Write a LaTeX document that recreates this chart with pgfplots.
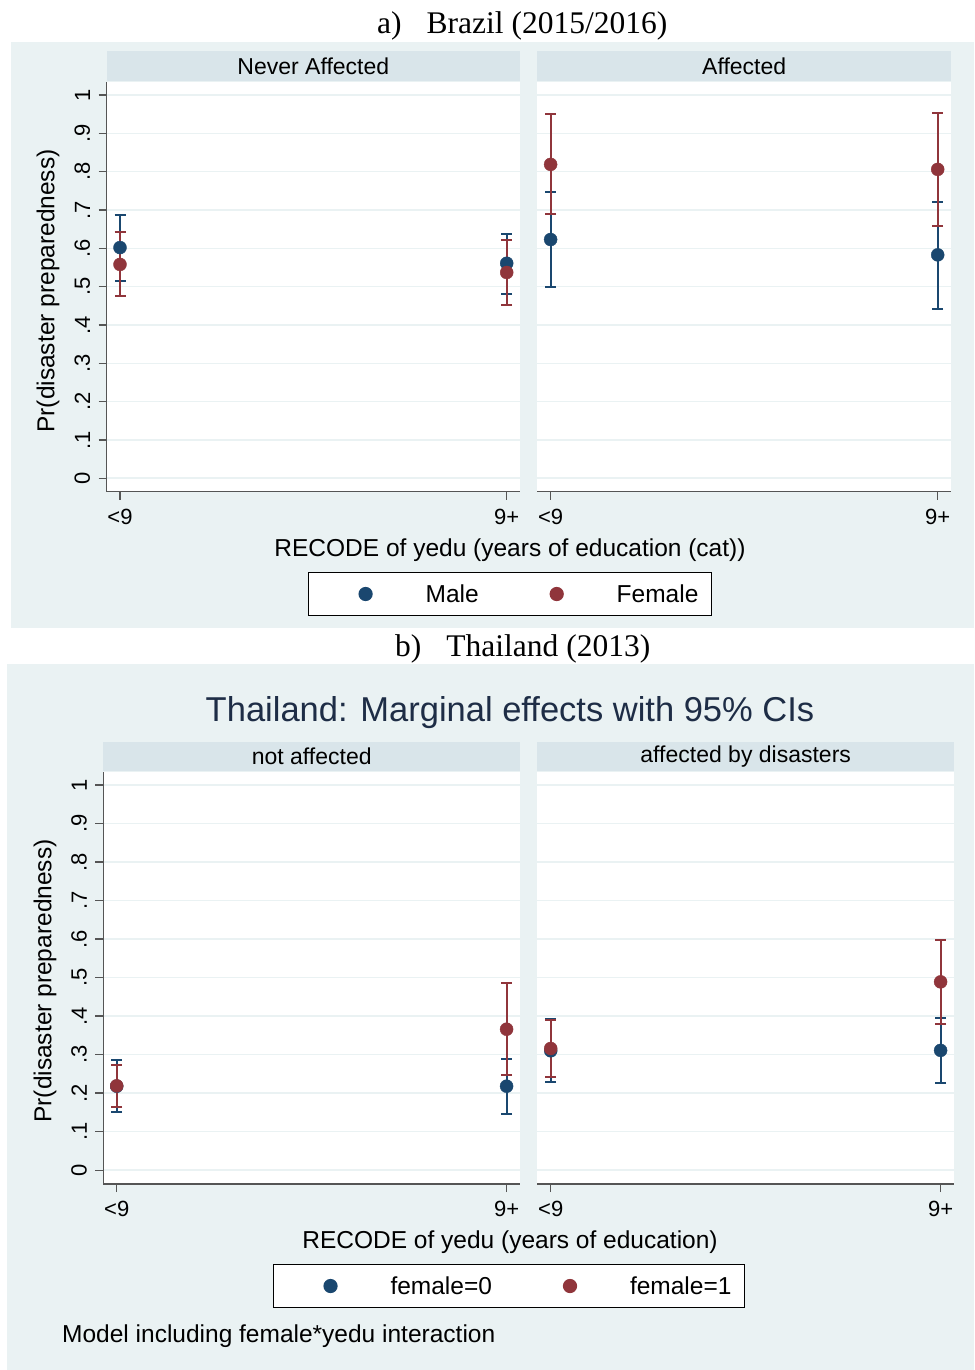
\documentclass[border=0pt]{standalone}
\usepackage{fontspec}
\setmainfont{Liberation Sans}
\newfontfamily\serif{Liberation Serif}
\usepackage{pgfplots}
\usepackage{pgfplotstable}
\pgfplotsset{compat=1.18}
\definecolor{bgc}{RGB}{234,242,243}
\definecolor{stripc}{RGB}{217,229,234}
\definecolor{gridc}{RGB}{234,242,243}
\definecolor{axc}{RGB}{85,85,85}
\definecolor{navyS}{RGB}{26,71,111}
\definecolor{maroonS}{RGB}{144,53,59}
\definecolor{titc}{RGB}{30,45,70}
\newcommand\fs[1]{\fontsize{#1}{#1}\selectfont}

% columns: x, estimate, CI upper minus estimate, estimate minus CI lower
\pgfplotstableread{
x y ep em
0 0.602 0.085 0.087
1 0.561 0.077 0.079
}\brMaleNever
\pgfplotstableread{
x y ep em
0 0.558 0.084 0.083
1 0.537 0.086 0.086
}\brFemaleNever
\pgfplotstableread{
x y ep em
0 0.623 0.123 0.123
1 0.583 0.139 0.140
}\brMaleAff
\pgfplotstableread{
x y ep em
0 0.819 0.131 0.130
1 0.806 0.148 0.148
}\brFemaleAff
\pgfplotstableread{
x y ep em
0 0.218 0.067 0.068
1 0.218 0.070 0.071
}\thMaleNot
\pgfplotstableread{
x y ep em
0 0.219 0.055 0.055
1 0.366 0.120 0.118
}\thFemaleNot
\pgfplotstableread{
x y ep em
0 0.310 0.082 0.082
1 0.311 0.084 0.084
}\thMaleAff
\pgfplotstableread{
x y ep em
0 0.316 0.074 0.073
1 0.489 0.110 0.110
}\thFemaleAff

\pgfplotsset{
 panel/.style={
  scale only axis, anchor=south west,
  xmin=-0.0344, xmax=1.0344,
  xtick={0,1}, xticklabels={<9,9+},
  ytick={0,0.1,0.2,0.3,0.4,0.5,0.6,0.7,0.8,0.9,1},
  yticklabels={0,.1,.2,.3,.4,.5,.6,.7,.8,.9,1},
  axis x line*=bottom, axis y line*=left,
  axis line style={-, draw=axc, line width=1.3pt},
  tick align=outside, major tick length=8pt,
  tick style={draw=axc, line width=1.3pt},
  ymajorgrids, grid style={draw=gridc, line width=1.6pt},
  axis background/.style={fill=white},
  tick label style={font=\fs{22}},
  xticklabel style={yshift=-6pt},
  yticklabel style={xshift=-5pt, rotate=90, anchor=south},
 },
 rightpanel/.style={y axis line style={draw=none}, ytick style={draw=none}, yticklabels={}},
 ciM/.style={forget plot, draw=none, error bars/.cd, y dir=both, y explicit,
   error bar style={draw=navyS, line width=2pt},
   error mark options={draw=navyS, rotate=90, mark size=5.5pt, line width=2pt}},
 ciF/.style={forget plot, draw=none, error bars/.cd, y dir=both, y explicit,
   error bar style={draw=maroonS, line width=2pt},
   error mark options={draw=maroonS, rotate=90, mark size=5.5pt, line width=2pt}},
 ptM/.style={only marks, mark=*, mark size=6.5pt, color=navyS, mark options={fill=navyS, draw=navyS},
   legend image code/.code={\path[draw=none] (-46pt,0pt) -- (58pt,0pt); \draw[##1] plot coordinates {(0pt,0pt)};}},
 ptF/.style={only marks, mark=*, mark size=6.5pt, color=maroonS, mark options={fill=maroonS, draw=maroonS},
   legend image code/.code={\path[draw=none] (-46pt,0pt) -- (58pt,0pt); \draw[##1] plot coordinates {(0pt,0pt)};}},
 leg/.style={legend columns=2, legend style={font=\fs{24.5}, draw=black, line width=1.2pt, fill=white,
   inner xsep=11pt, inner ysep=10pt, anchor=center,
   /tikz/every even column/.append style={column sep=30pt}}},
}

\begin{document}
\begin{tikzpicture}[x=1pt,y=1pt]
\fill[white] (0,0) rectangle (974,-1370);
\fill[bgc] (11,-42) rectangle (974,-628);
\fill[bgc] (7,-664) rectangle (974,-1370);
\node[anchor=base west, inner sep=0pt, font=\serif\fs{31.5}] at (377,-34) {a)\hspace{25pt}Brazil (2015/2016)};
\node[anchor=base west, inner sep=0pt, font=\serif\fs{31.5}] at (395,-656) {b)\hspace{25pt}Thailand (2013)};

% ---------- Brazil ----------
\fill[stripc] (106.7,-51) rectangle (520,-81);
\fill[stripc] (537.3,-51) rectangle (951,-81);
\node[font=\fs{23}] at (313.3,-66) {Never Affected};
\node[font=\fs{23}] at (744.2,-66) {Affected};
\node[font=\fs{24.5}, rotate=90] at (48,-291) {Pr(disaster preparedness)};
\node[font=\fs{24.5}] at (510,-550) {RECODE of yedu (years of education (cat))};

\begin{axis}[panel, at={(106.7pt,-491.7pt)}, width=413.3pt, height=409.7pt,
  ymin=-0.035, ymax=1.034, leg, legend style={at={(0.9758,-0.2497)}}]
\addplot[ciM] table[x=x, y=y, y error plus=ep, y error minus=em] {\brMaleNever};
\addplot[ciF] table[x=x, y=y, y error plus=ep, y error minus=em] {\brFemaleNever};
\addplot[ptM] table[x=x, y=y] {\brMaleNever};
\addlegendentry{Male}
\addplot[ptF] table[x=x, y=y] {\brFemaleNever};
\addlegendentry{Female}
\end{axis}

\begin{axis}[panel, rightpanel, at={(537.3pt,-491.7pt)}, width=413.7pt, height=409.7pt,
  ymin=-0.035, ymax=1.034]
\addplot[ciM] table[x=x, y=y, y error plus=ep, y error minus=em] {\brMaleAff};
\addplot[ciF] table[x=x, y=y, y error plus=ep, y error minus=em] {\brFemaleAff};
\addplot[ptM] table[x=x, y=y] {\brMaleAff};
\addplot[ptF] table[x=x, y=y] {\brFemaleAff};
\end{axis}

% ---------- Thailand ----------
\node[font=\fs{34.5}, text=titc] at (510,-713) {Thailand: Marginal effects with 95\% CIs};
\fill[stripc] (103.3,-742) rectangle (520,-771);
\fill[stripc] (537.3,-742) rectangle (954,-771);
\node[font=\fs{23}] at (311.7,-756.5) {not affected};
\node[font=\fs{23}] at (745.7,-756.5) {affected by disasters};
\node[font=\fs{24.5}, rotate=90] at (45,-981) {Pr(disaster preparedness)};
\node[font=\fs{24.5}] at (510,-1242) {RECODE of yedu (years of education)};
\node[anchor=base west, inner sep=0pt, font=\fs{24.5}] at (62,-1342) {Model including female*yedu interaction};

\begin{axis}[panel, at={(103.3pt,-1184pt)}, width=416.7pt, height=412pt,
  ymin=-0.036, ymax=1.034, leg, legend style={at={(0.9736,-0.2476)}}]
\addplot[ciM] table[x=x, y=y, y error plus=ep, y error minus=em] {\thMaleNot};
\addplot[ciF] table[x=x, y=y, y error plus=ep, y error minus=em] {\thFemaleNot};
\addplot[ptM] table[x=x, y=y] {\thMaleNot};
\addlegendentry{female=0}
\addplot[ptF] table[x=x, y=y] {\thFemaleNot};
\addlegendentry{female=1}
\end{axis}

\begin{axis}[panel, rightpanel, at={(537.3pt,-1184pt)}, width=416.7pt, height=412pt,
  ymin=-0.036, ymax=1.034]
\addplot[ciM] table[x=x, y=y, y error plus=ep, y error minus=em] {\thMaleAff};
\addplot[ciF] table[x=x, y=y, y error plus=ep, y error minus=em] {\thFemaleAff};
\addplot[ptM] table[x=x, y=y] {\thMaleAff};
\addplot[ptF] table[x=x, y=y] {\thFemaleAff};
\end{axis}
\end{tikzpicture}
\end{document}
